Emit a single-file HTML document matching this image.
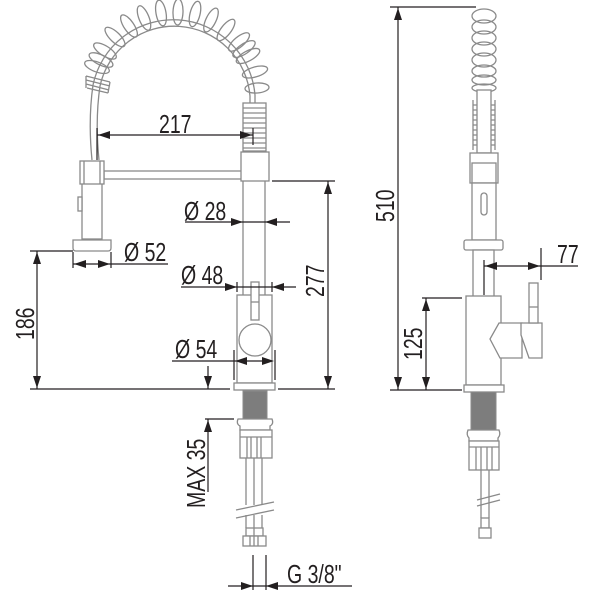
<!DOCTYPE html>
<html><head><meta charset="utf-8"><style>
html,body{margin:0;padding:0;background:#fff}
svg{display:block}
text{font-family:"Liberation Sans Narrow","Liberation Sans",sans-serif;font-size:26px;fill:#231f20}
.g{fill:none;stroke:#8a8a8a;stroke-width:1.3}
.gw{fill:#fff;stroke:#8a8a8a;stroke-width:1.3}
.d{fill:none;stroke:#231f20;stroke-width:1.2}
.a{fill:#231f20}
</style></head><body>
<svg width="600" height="600" viewBox="0 0 600 600" xmlns="http://www.w3.org/2000/svg">
<path class="g" d="M92,160 Q88,120 93,85 A82,82 0 0 1 255,95 L255,150"/>
<path class="g" d="M99,160 Q95,120 100,86 A76,76 0 0 1 250,96 L250,150"/>
<g class="g">
<ellipse cx="97" cy="67" rx="13" ry="5" transform="rotate(-160 97 67)"/>
<ellipse cx="105" cy="51" rx="13" ry="5" transform="rotate(-148 105 51)"/>
<ellipse cx="115" cy="37" rx="13" ry="5" transform="rotate(-136 115 37)"/>
<ellipse cx="129" cy="26" rx="13" ry="5" transform="rotate(-124 129 26)"/>
<ellipse cx="144" cy="18" rx="13" ry="5" transform="rotate(-112 144 18)"/>
<ellipse cx="161" cy="13" rx="13" ry="5" transform="rotate(-100 161 13)"/>
<ellipse cx="178" cy="12" rx="13" ry="5" transform="rotate(-88 178 12)"/>
<ellipse cx="195" cy="14" rx="13" ry="5" transform="rotate(-76 195 14)"/>
<ellipse cx="211" cy="20" rx="13" ry="5" transform="rotate(-64 211 20)"/>
<ellipse cx="226" cy="30" rx="13" ry="5" transform="rotate(-52 226 30)"/>
<ellipse cx="239" cy="42" rx="13" ry="5" transform="rotate(-40 239 42)"/>
<ellipse cx="248" cy="56" rx="13" ry="5" transform="rotate(-28 248 56)"/>
<ellipse cx="255" cy="72" rx="13" ry="5" transform="rotate(-16 255 72)"/>
<ellipse cx="257" cy="88" rx="12" ry="5" transform="rotate(-4 257 88)"/>
<ellipse cx="101" cy="60" rx="13" ry="5" transform="rotate(-154 101 60)"/>
<ellipse cx="244" cy="49" rx="13" ry="5" transform="rotate(-34 244 49)"/>
</g>
<g class="g"><path d="M86,76 L110,82 M86,80 L110,86 M86,84 L109,90 M87,88 L108,93 M86,76 L86,88 M110,82 L108,93"/></g>
<rect class="gw" x="243" y="103" width="23" height="48"/>
<g class="g"><path d="M243,108H266M243,113H266M243,118H266M243,123H266M243,128H266M243,133H266M243,138H266M243,143H266M243,148H266"/></g>
<rect class="gw" x="104" y="171" width="138" height="8"/>
<rect class="gw" x="243" y="180" width="22" height="120"/>
<rect class="gw" x="241" y="152" width="28" height="29"/>
<rect class="gw" x="82" y="183" width="20" height="56"/>
<rect class="gw" x="80" y="161" width="24" height="23"/>
<line class="g" x1="84" y1="161" x2="84" y2="184"/><line class="g" x1="100" y1="161" x2="100" y2="184"/>
<rect class="gw" x="78" y="197" width="4" height="14"/>
<path class="gw" d="M73,240 H111 V248 Q111,251 108,251 H76 Q73,251 73,248 Z"/>
<rect class="gw" x="237" y="295" width="35" height="88"/>
<rect class="gw" x="251" y="282" width="8" height="38"/>
<line class="g" x1="251" y1="302" x2="259" y2="302"/>
<circle class="gw" cx="255" cy="340" r="16"/>
<rect class="gw" x="234" y="383" width="41" height="7"/>
<rect x="243" y="391" width="24" height="28" fill="#7d7d7d" stroke="#8a8a8a"/>
<path class="gw" d="M238,419 H272 Q274,424 270,426 V430 H240 V426 Q236,424 238,419 Z"/>
<rect class="gw" x="240" y="430" width="32" height="28"/>
<path class="g" d="M247,437V458M251,437V458M257,437V458M261,437V458M240,437H272"/>
<path class="g" d="M246,458V505M254,458V505M262,458V505M246,515V528M254,515V528M262,515V528"/>
<path class="g" d="M236,510 L274,502 M236,518 L274,510"/>
<rect class="gw" x="246" y="528" width="17" height="8"/>
<rect class="gw" x="243" y="536" width="23" height="10"/>
<path class="g" d="M254,528V546M250,536V546M258,536V546"/>

<line class="d" x1="97" y1="135" x2="253" y2="135"/>
<line class="d" x1="97" y1="128" x2="97" y2="160"/>
<line class="d" x1="253" y1="128" x2="253" y2="145"/>
<polygon class="a" points="98,135 110,131 110,139"/><polygon class="a" points="252,135 240,131 240,139"/>
<text transform="translate(159,133) scale(0.75,1)">217</text>

<line class="d" x1="185" y1="222" x2="290" y2="222"/>
<polygon class="a" points="243,222 231,218 231,226"/><polygon class="a" points="265,222 277,218 277,226"/>
<text transform="translate(184,220) scale(0.75,1)">Ø 28</text>

<line class="d" x1="30" y1="251" x2="73" y2="251"/>
<line class="d" x1="73" y1="252" x2="73" y2="268"/><line class="d" x1="111" y1="252" x2="111" y2="268"/>
<line class="d" x1="73" y1="264" x2="168" y2="264"/>
<polygon class="a" points="74,264 86,260 86,268"/><polygon class="a" points="110,264 98,260 98,268"/>
<text transform="translate(124,261) scale(0.75,1)">Ø 52</text>

<line class="d" x1="181" y1="287" x2="296" y2="287"/>
<line class="d" x1="237" y1="282" x2="237" y2="292"/><line class="d" x1="272" y1="282" x2="272" y2="292"/>
<polygon class="a" points="237,287 225,283 225,291"/><polygon class="a" points="272,287 284,283 284,291"/>
<text transform="translate(181,284) scale(0.75,1)">Ø 48</text>

<line class="d" x1="172" y1="361" x2="272" y2="361"/>
<line class="d" x1="234" y1="350" x2="234" y2="380"/><line class="d" x1="275" y1="350" x2="275" y2="380"/>
<polygon class="a" points="235,361 247,357 247,365"/><polygon class="a" points="274,361 262,357 262,365"/>
<text transform="translate(175,358) scale(0.75,1)">Ø 54</text>

<line class="d" x1="30" y1="389" x2="230" y2="389"/>
<line class="d" x1="37" y1="251" x2="37" y2="389"/>
<polygon class="a" points="37,252 33,264 41,264"/><polygon class="a" points="37,388 33,376 41,376"/>
<text transform="translate(34,340) rotate(-90) scale(0.75,1)">186</text>

<line class="d" x1="272" y1="181" x2="335" y2="181"/>
<line class="d" x1="278" y1="389" x2="335" y2="389"/>
<line class="d" x1="328" y1="181" x2="328" y2="389"/>
<polygon class="a" points="328,182 324,194 332,194"/><polygon class="a" points="328,388 324,376 332,376"/>
<text transform="translate(324,297) rotate(-90) scale(0.75,1)">277</text>

<line class="d" x1="208" y1="366" x2="208" y2="389"/>
<polygon class="a" points="208,388 204,376 212,376"/>
<line class="d" x1="205" y1="419" x2="234" y2="419"/>
<line class="d" x1="208" y1="419" x2="208" y2="492"/>
<polygon class="a" points="208,420 204,432 212,432"/>
<text transform="translate(205,508) rotate(-90) scale(0.75,1)">MAX 35</text>

<line class="d" x1="253" y1="555" x2="253" y2="590"/><line class="d" x1="266" y1="555" x2="266" y2="590"/>
<line class="d" x1="228" y1="586" x2="352" y2="586"/>
<polygon class="a" points="253,586 241,582 241,590"/><polygon class="a" points="266,586 278,582 278,590"/>
<text transform="translate(287,583) scale(0.75,1)">G 3/8"</text>

<g class="g">
<ellipse cx="484" cy="16" rx="12" ry="7"/>
<ellipse cx="484" cy="27" rx="12" ry="7"/>
<ellipse cx="484" cy="38" rx="12" ry="7"/>
<ellipse cx="484" cy="49" rx="12" ry="7"/>
<ellipse cx="484" cy="60" rx="12" ry="7"/>
<ellipse cx="484" cy="71" rx="12" ry="6"/>
<ellipse cx="484" cy="80" rx="12" ry="5"/>
<ellipse cx="484" cy="88" rx="12" ry="4"/>
</g>
<rect class="gw" x="477" y="90" width="14" height="63"/>
<g class="g"><path d="M473,100V150M495,100V150M473,105H477M473,110H477M473,115H477M473,120H477M473,125H477M473,130H477M473,135H477M473,140H477M473,145H477M491,105H495M491,110H495M491,115H495M491,120H495M491,125H495M491,130H495M491,135H495M491,140H495M491,145H495"/></g>
<rect class="gw" x="470" y="153" width="28" height="30"/>
<rect class="gw" x="472" y="163" width="24" height="20"/>
<rect class="gw" x="472" y="183" width="24" height="57"/>
<rect class="gw" x="481" y="193" width="6" height="22" rx="3"/>
<rect class="gw" x="464" y="240" width="39" height="10" rx="2"/>
<rect class="gw" x="473" y="250" width="21" height="47"/>
<rect class="gw" x="466" y="296" width="35" height="89"/>
<path class="gw" d="M501,323 H499 L490,339 L500,358 H522 V323 Z"/>
<path class="gw" d="M521,323 H542 V358 H529 L521,335 Z"/>
<rect class="gw" x="529" y="283" width="9" height="40"/>
<line class="g" x1="529" y1="307" x2="538" y2="307"/>
<rect class="gw" x="464" y="385" width="40" height="7"/>
<rect x="471" y="392" width="25" height="38" fill="#7d7d7d" stroke="#8a8a8a"/>
<path class="gw" d="M468,430 H499 Q501,435 498,438 V441 H469 V438 Q466,435 468,430 Z"/>
<rect class="gw" x="469" y="441" width="30" height="29"/>
<path class="g" d="M476,447V470M481,447V470M487,447V470M492,447V470M469,447H499"/>
<path class="g" d="M481,470V518M489,470V518"/>
<path class="g" d="M477,500 L500,494 M477,506 L500,500"/>
<rect class="gw" x="481" y="518" width="8" height="10"/>
<rect class="gw" x="479" y="528" width="12" height="10"/>

<line class="d" x1="390" y1="7" x2="476" y2="7"/>
<line class="d" x1="398" y1="7" x2="398" y2="390"/>
<polygon class="a" points="398,8 394,20 402,20"/><polygon class="a" points="398,389 394,377 402,377"/>
<text transform="translate(394,222) rotate(-90) scale(0.75,1)">510</text>

<line class="d" x1="390" y1="390" x2="462" y2="390"/>
<line class="d" x1="422" y1="298" x2="462" y2="298"/>
<line class="d" x1="426" y1="298" x2="426" y2="390"/>
<polygon class="a" points="426,299 422,311 430,311"/><polygon class="a" points="426,389 422,377 430,377"/>
<text transform="translate(422,360) rotate(-90) scale(0.75,1)">125</text>

<line class="d" x1="484" y1="260" x2="484" y2="295"/>
<line class="d" x1="541" y1="248" x2="541" y2="280"/>
<line class="d" x1="484" y1="266" x2="578" y2="266"/>
<polygon class="a" points="485,266 497,262 497,270"/><polygon class="a" points="540,266 528,262 528,270"/>
<text transform="translate(557,263) scale(0.75,1)">77</text>
</svg>
</body></html>
